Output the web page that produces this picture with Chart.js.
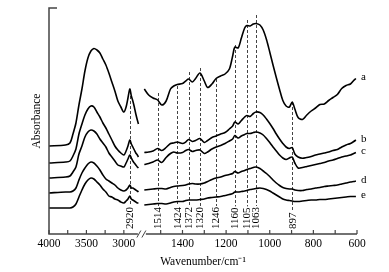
<!DOCTYPE html>
<html>
<head>
<meta charset="utf-8">
<script src="https://cdn.jsdelivr.net/npm/chart.js@4.4.0/dist/chart.umd.min.js"></script>
<style>
  html, body { margin: 0; padding: 0; background: #fff; }
</style>
</head>
<body>
<canvas id="ftir" width="389" height="272"></canvas>
<script>
// Espectros FTIR (a-e), eixo x com quebra entre 2800 e 1580 cm-1

// grade de numeros de onda (cm-1) antes e depois da quebra
const waveLeft = [4000, 3780, 3720, 3680, 3640, 3600, 3560, 3520, 3480, 3440, 3400, 3360, 3320, 3280, 3240,
  3200, 3160, 3120, 3080, 3040, 3000, 2970, 2945, 2920, 2900, 2880, 2860, 2840, 2820, 2805];
const waveRight = [1575, 1555, 1535, 1514, 1495, 1475, 1455, 1440, 1424, 1400, 1385, 1372, 1355, 1340, 1320,
  1300, 1285, 1265, 1246, 1225, 1205, 1185, 1170, 1160, 1145, 1130, 1115, 1105, 1090, 1075,
  1063, 1045, 1030, 1015, 1000, 985, 970, 955, 940, 925, 910, 897, 885, 870, 850,
  830, 810, 790, 770, 750, 730, 710, 690, 670, 650, 630, 615, 605];

// absorbancia (unidades arbitrarias, curvas deslocadas)
const aLeft = [0.88, 0.89, 0.91, 1.00, 1.11, 1.29, 1.45, 1.63, 1.76, 1.83, 1.855, 1.84, 1.81, 1.75, 1.69,
  1.61, 1.52, 1.43, 1.33, 1.27, 1.22, 1.27, 1.36, 1.45, 1.38, 1.33, 1.27, 1.20, 1.14, 1.10];
const aRight = [1.45, 1.39, 1.36, 1.34, 1.29, 1.33, 1.45, 1.48, 1.495, 1.505, 1.53, 1.55, 1.52, 1.555, 1.61,
  1.53, 1.465, 1.50, 1.555, 1.58, 1.60, 1.65, 1.78, 1.87, 1.86, 1.96, 2.06, 2.085, 2.08, 2.10,
  2.105, 2.09, 2.04, 1.945, 1.82, 1.69, 1.565, 1.445, 1.335, 1.28, 1.27, 1.32, 1.25, 1.165, 1.145,
  1.19, 1.23, 1.26, 1.295, 1.30, 1.335, 1.365, 1.395, 1.455, 1.485, 1.50, 1.535, 1.555];

const bLeft = [0.71, 0.72, 0.73, 0.78, 0.85, 1.00, 1.10, 1.19, 1.25, 1.28, 1.27, 1.22, 1.17, 1.11, 1.06,
  1.00, 0.94, 0.88, 0.84, 0.81, 0.79, 0.83, 0.88, 0.94, 0.90, 0.87, 0.84, 0.81, 0.79, 0.77];
const bRight = [0.815, 0.82, 0.83, 0.855, 0.835, 0.865, 0.905, 0.91, 0.92, 0.905, 0.92, 0.945, 0.925, 0.935, 0.955,
  0.915, 0.935, 0.965, 0.98, 1.00, 1.015, 1.05, 1.08, 1.12, 1.10, 1.135, 1.17, 1.185, 1.175, 1.205,
  1.22, 1.215, 1.19, 1.15, 1.105, 1.055, 1.00, 0.95, 0.905, 0.87, 0.855, 0.865, 0.80, 0.77, 0.757,
  0.765, 0.775, 0.79, 0.80, 0.81, 0.82, 0.835, 0.845, 0.87, 0.89, 0.905, 0.925, 0.94];

const cLeft = [0.56, 0.57, 0.58, 0.62, 0.67, 0.80, 0.88, 0.97, 1.02, 1.04, 1.03, 1.00, 0.95, 0.91, 0.87,
  0.81, 0.77, 0.73, 0.69, 0.68, 0.67, 0.71, 0.75, 0.79, 0.76, 0.73, 0.71, 0.69, 0.67, 0.66];
const cRight = [0.695, 0.705, 0.72, 0.74, 0.715, 0.765, 0.805, 0.82, 0.81, 0.815, 0.835, 0.845, 0.825, 0.835, 0.84,
  0.805, 0.82, 0.85, 0.87, 0.885, 0.905, 0.93, 0.95, 0.985, 0.96, 0.98, 0.995, 1.005, 1.005, 1.015,
  1.02, 1.01, 0.99, 0.955, 0.915, 0.87, 0.83, 0.79, 0.76, 0.745, 0.76, 0.77, 0.71, 0.66, 0.665,
  0.675, 0.685, 0.695, 0.705, 0.715, 0.73, 0.74, 0.755, 0.77, 0.78, 0.79, 0.805, 0.815];

const dLeft = [0.41, 0.42, 0.42, 0.43, 0.46, 0.54, 0.61, 0.66, 0.70, 0.72, 0.71, 0.68, 0.64, 0.59, 0.55,
  0.53, 0.51, 0.49, 0.46, 0.44, 0.43, 0.44, 0.46, 0.49, 0.46, 0.46, 0.45, 0.44, 0.43, 0.42];
const dRight = [0.44, 0.445, 0.45, 0.455, 0.455, 0.45, 0.465, 0.475, 0.48, 0.485, 0.49, 0.50, 0.505, 0.50, 0.50,
  0.51, 0.525, 0.545, 0.56, 0.57, 0.585, 0.595, 0.605, 0.625, 0.61, 0.625, 0.635, 0.645, 0.655, 0.665,
  0.67, 0.655, 0.63, 0.605, 0.575, 0.54, 0.51, 0.485, 0.465, 0.455, 0.45, 0.45, 0.44, 0.435, 0.435,
  0.445, 0.45, 0.46, 0.465, 0.475, 0.48, 0.485, 0.49, 0.50, 0.51, 0.52, 0.525, 0.53];

const eLeft = [0.26, 0.26, 0.26, 0.27, 0.30, 0.37, 0.44, 0.50, 0.54, 0.56, 0.55, 0.52, 0.49, 0.45, 0.42,
  0.38, 0.37, 0.35, 0.34, 0.32, 0.31, 0.33, 0.35, 0.38, 0.35, 0.34, 0.33, 0.32, 0.31, 0.31];
const eRight = [0.29, 0.295, 0.30, 0.305, 0.305, 0.30, 0.31, 0.32, 0.325, 0.325, 0.335, 0.34, 0.34, 0.34, 0.345,
  0.35, 0.36, 0.365, 0.37, 0.375, 0.385, 0.395, 0.405, 0.42, 0.42, 0.425, 0.43, 0.435, 0.445, 0.45,
  0.455, 0.46, 0.455, 0.445, 0.43, 0.41, 0.39, 0.37, 0.35, 0.34, 0.335, 0.33, 0.325, 0.325, 0.33,
  0.335, 0.34, 0.34, 0.345, 0.345, 0.35, 0.355, 0.36, 0.365, 0.37, 0.375, 0.375, 0.375];

const curveNames = ['a', 'b', 'c', 'd', 'e'];

// bandas marcadas com linha tracejada e ate onde a linha sobe
const bandWaves = [2920, 1514, 1424, 1372, 1320, 1246, 1160, 1105, 1063, 897];
const bandTops = [1.43, 1.41, 1.48, 1.62, 1.66, 1.55, 1.89, 2.14, 2.19, 1.32];

// ticks do eixo x
const labelTicks = [4000, 3500, 3000, 1400, 1200, 1000, 800, 600];
const minorTicks = [3750, 3250, 1500, 1300, 1100, 900, 700];
const breakWave = 2000;

// escala com quebra: trecho da esquerda comprimido, trecho da direita expandido
function toAxis(w) {
    if (w >= breakWave) return (4000 - w) * 0.0748;
    return 133.4 + (1400 - w) * 0.218;
}

const serif = "'Liberation Serif', 'Times New Roman', serif";

function montarSerie(left, right) {
    const pts = waveLeft.map((w, i) => ({ x: toAxis(w), y: left[i] }));
    pts.push({ x: (toAxis(2805) + toAxis(1575)) / 2, y: null });
    return pts.concat(waveRight.map((w, i) => ({ x: toAxis(w), y: right[i] })));
}

const series = [[aLeft, aRight], [bLeft, bRight], [cLeft, cRight], [dLeft, dRight], [eLeft, eRight]];
const datasets = series.map((s, i) => ({
    label: curveNames[i],
    data: montarSerie(s[0], s[1]),
    borderColor: '#000',
    borderWidth: 1.6,
    pointRadius: 0,
    tension: 0.3,
    fill: false,
    spanGaps: false
}));

// desenha eixos, quebra, linhas tracejadas e rotulos
const decoracao = {
    id: 'decoracao',
    beforeDatasetsDraw(chart) {
        const ctx = chart.ctx;
        const ca = chart.chartArea;
        const xs = chart.scales.x;
        const ys = chart.scales.y;
        ctx.save();
        ctx.font = '11px ' + serif;
        ctx.strokeStyle = '#444';
        ctx.lineWidth = 1;
        ctx.setLineDash([3, 2]);
        bandWaves.forEach((w, i) => {
            const x = Math.round(xs.getPixelForValue(toAxis(w))) + 0.5;
            const tw = ctx.measureText(String(w)).width;
            ctx.beginPath();
            ctx.moveTo(x, ys.getPixelForValue(bandTops[i]));
            ctx.lineTo(x, ca.bottom - 5 - tw - 1);
            ctx.stroke();
        });
        ctx.restore();
    },
    afterDatasetsDraw(chart) {
        const ctx = chart.ctx;
        const ca = chart.chartArea;
        const xs = chart.scales.x;
        const ys = chart.scales.y;
        ctx.save();

        // eixos
        ctx.strokeStyle = '#444';
        ctx.lineWidth = 1.5;
        ctx.beginPath();
        ctx.moveTo(ca.left + 8, ca.top);
        ctx.lineTo(ca.left, ca.top);
        ctx.lineTo(ca.left, ca.bottom);
        const bx = xs.getPixelForValue((toAxis(2805) + toAxis(1575)) / 2);
        ctx.lineTo(bx - 3.5, ca.bottom);
        ctx.moveTo(bx + 4.5, ca.bottom);
        ctx.lineTo(ca.right, ca.bottom);
        ctx.stroke();

        // marca de quebra //
        ctx.lineWidth = 1;
        ctx.beginPath();
        ctx.moveTo(bx - 4.5, ca.bottom + 3.5);
        ctx.lineTo(bx - 0.5, ca.bottom - 3.5);
        ctx.moveTo(bx + 0.5, ca.bottom + 3.5);
        ctx.lineTo(bx + 4.5, ca.bottom - 3.5);
        ctx.stroke();

        // ticks para dentro
        ctx.lineWidth = 1.2;
        labelTicks.concat(minorTicks).forEach(w => {
            const x = xs.getPixelForValue(toAxis(w));
            ctx.beginPath();
            ctx.moveTo(x, ca.bottom);
            ctx.lineTo(x, ca.bottom - 4);
            ctx.stroke();
        });

        // rotulos das bandas (verticais)
        ctx.fillStyle = '#000';
        ctx.font = '11px ' + serif;
        ctx.textAlign = 'left';
        ctx.textBaseline = 'middle';
        bandWaves.forEach(w => {
            const x = xs.getPixelForValue(toAxis(w));
            ctx.save();
            ctx.translate(x, ca.bottom - 5);
            ctx.rotate(-Math.PI / 2);
            ctx.fillText(String(w), 0, 0.5);
            ctx.restore();
        });

        // nomes das curvas no fim de cada espectro
        chart.data.datasets.forEach(ds => {
            const last = ds.data[ds.data.length - 1];
            ctx.fillText(ds.label, xs.getPixelForValue(last.x) + 5, ys.getPixelForValue(last.y) - 1);
        });
        ctx.restore();
    }
};

document.addEventListener('DOMContentLoaded', function() {
    const ctx = document.getElementById('ftir').getContext('2d');
    new Chart(ctx, {
        type: 'line',
        data: { datasets: datasets },
        plugins: [decoracao],
        options: {
            responsive: false,
            devicePixelRatio: 1,
            animation: false,
            layout: { padding: { left: 0, right: 32, top: 8, bottom: 0 } },
            plugins: {
                legend: { display: false },
                tooltip: { enabled: false }
            },
            scales: {
                x: {
                    type: 'linear',
                    min: 0,
                    max: toAxis(600),
                    afterFit: s => { s.height = 38; },
                    afterBuildTicks: s => {
                        s.ticks = labelTicks.map(w => ({ value: toAxis(w) }));
                    },
                    grid: { display: false, drawTicks: false },
                    border: { display: false },
                    ticks: {
                        autoSkip: false,
                        maxRotation: 0,
                        padding: 3,
                        color: '#000',
                        font: { family: serif, size: 11.5 },
                        callback: function(v) {
                            const w = labelTicks.find(t => Math.abs(toAxis(t) - v) < 0.01);
                            return w === undefined ? '' : String(w);
                        }
                    },
                    title: {
                        display: true,
                        text: 'Wavenumber/cm\u207B\u00B9',
                        color: '#000',
                        font: { family: serif, size: 11.5 },
                        padding: { top: 0, bottom: 3.5 }
                    }
                },
                y: {
                    min: 0,
                    max: 2.26,
                    afterFit: s => { s.width = 49; },
                    grid: { display: false, drawTicks: false },
                    border: { display: false },
                    ticks: { display: false },
                    title: {
                        display: true,
                        text: 'Absorbance',
                        color: '#000',
                        font: { family: serif, size: 11.5 },
                        padding: { top: 30, bottom: 0 }
                    }
                }
            }
        }
    });
});
</script>
</body>
</html>
